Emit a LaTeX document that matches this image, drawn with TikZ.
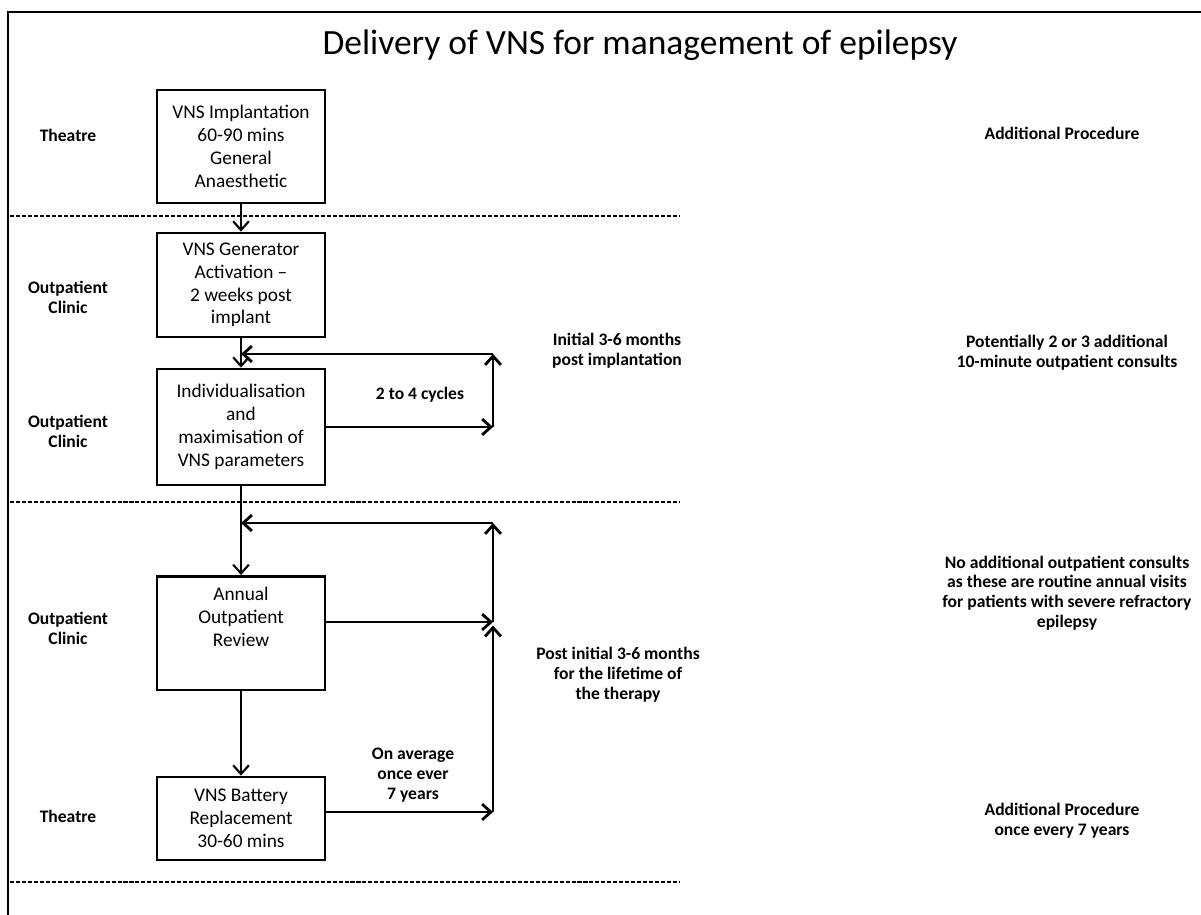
\documentclass[tikz,border=0pt]{standalone}
\usepackage{fontspec}
\setmainfont{Carlito}
\usetikzlibrary{arrows.meta}

\begin{document}
\begin{tikzpicture}[x=0.02cm,y=-0.02cm]
    \tikzstyle{box}=[draw,line width=1.6pt,minimum width=3.36cm,align=center,inner sep=4pt,font=\fontsize{11}{13}\selectfont];
    \tikzstyle{lab}=[align=center,font=\fontsize{10}{11.3}\selectfont\bfseries];
    \tikzstyle{flow}=[line width=0.9pt,-{Straight Barb[length=5pt,width=9pt,line width=1.2pt]}];
    \tikzstyle{loopline}=[line width=1.6pt,-{Straight Barb[length=5pt,width=9pt]}];
    \tikzstyle{sep}=[line width=1.4pt,dash pattern=on 2.3pt off 1.1pt];
    \useasboundingbox (0,0) rectangle (1201,915);
    %frame and title
    \draw[line width=1.2pt] (8,915) -- (8,12) -- (1201,12);
    \node[font=\fontsize{20.2}{24}\selectfont] (title) at (640,45) {Delivery of VNS for management of epilepsy};
    \foreach \y in {216,502,882}
        \draw[sep] (10,\y) -- (680,\y);
    %boxes
    \node[box,minimum height=2.26cm] (impl) at (241,146.5) {VNS Implantation\\60-90 mins\\General\\Anaesthetic};
    \node[box,minimum height=2.08cm] (activ) at (241,285) {VNS Generator\\Activation --\\2 weeks post\\implant};
    \node[box,minimum height=2.32cm] (indiv) at (241,427) {Individualisation\\and\\maximisation of\\VNS parameters};
    \node[box,anchor=north,inner ysep=6pt,text depth=19pt] (annual) at (241,575) {Annual\\Outpatient\\Review};
    \node[box,minimum height=1.66cm] (batt) at (241,818.5) {VNS Battery\\Replacement\\30-60 mins};
    %setting
    \node[lab] (th1) at (68,135) {Theatre};
    \node[lab] (op1) at (68,297) {Outpatient\\Clinic};
    \node[lab] (op2) at (68,431) {Outpatient\\Clinic};
    \node[lab] (op3) at (68,628) {Outpatient\\Clinic};
    \node[lab] (th2) at (68,816) {Theatre};
    %notes
    \node[lab] (cyc) at (420,395) {2 to 4 cycles};
    \node[lab] (init) at (617,351) {Initial 3-6 months\\post implantation};
    \node[lab] (life) at (618,675) {Post initial 3-6 months\\for the lifetime of\\the therapy};
    \node[lab] (avg) at (413,775) {On average\\once ever\\7 years};
    \node[lab] (add1) at (1062,133) {Additional Procedure};
    \node[lab] (pot) at (1067,353) {Potentially 2 or 3 additional\\10-minute outpatient consults};
    \node[lab] (noadd) at (1067,593) {No additional outpatient consults\\as these are routine annual visits\\for patients with severe refractory\\epilepsy};
    \node[lab] (add2) at (1062,821) {Additional Procedure\\once every 7 years};
    %loop corners
    \coordinate (r1) at (493,427);
    \coordinate (c1) at (493,354);
    \coordinate (j1) at (241,354);
    \coordinate (r2) at (493,622);
    \coordinate (r3) at (493,812);
    \coordinate (c2) at (493,523);
    \coordinate (j2) at (241,523);
    %arrows
    \draw[flow] (impl) -- (activ);
    \draw[flow] (activ) -- (indiv);
    \draw[flow] (indiv) -- (annual);
    \draw[flow] (annual) -- (batt);
    \draw[loopline] (indiv) -- (r1);
    \draw[loopline] (r1) -- (c1);
    \draw[loopline] (c1) -- (j1);
    \draw[loopline] (annual.east |- r2) -- (r2);
    \draw[loopline] (batt.east |- r3) -- (r3);
    \draw[loopline,shorten >=2pt] (r3) -- (r2);
    \draw[loopline] (r2) -- (c2);
    \draw[loopline] (c2) -- (j2);
\end{tikzpicture}
\end{document}
